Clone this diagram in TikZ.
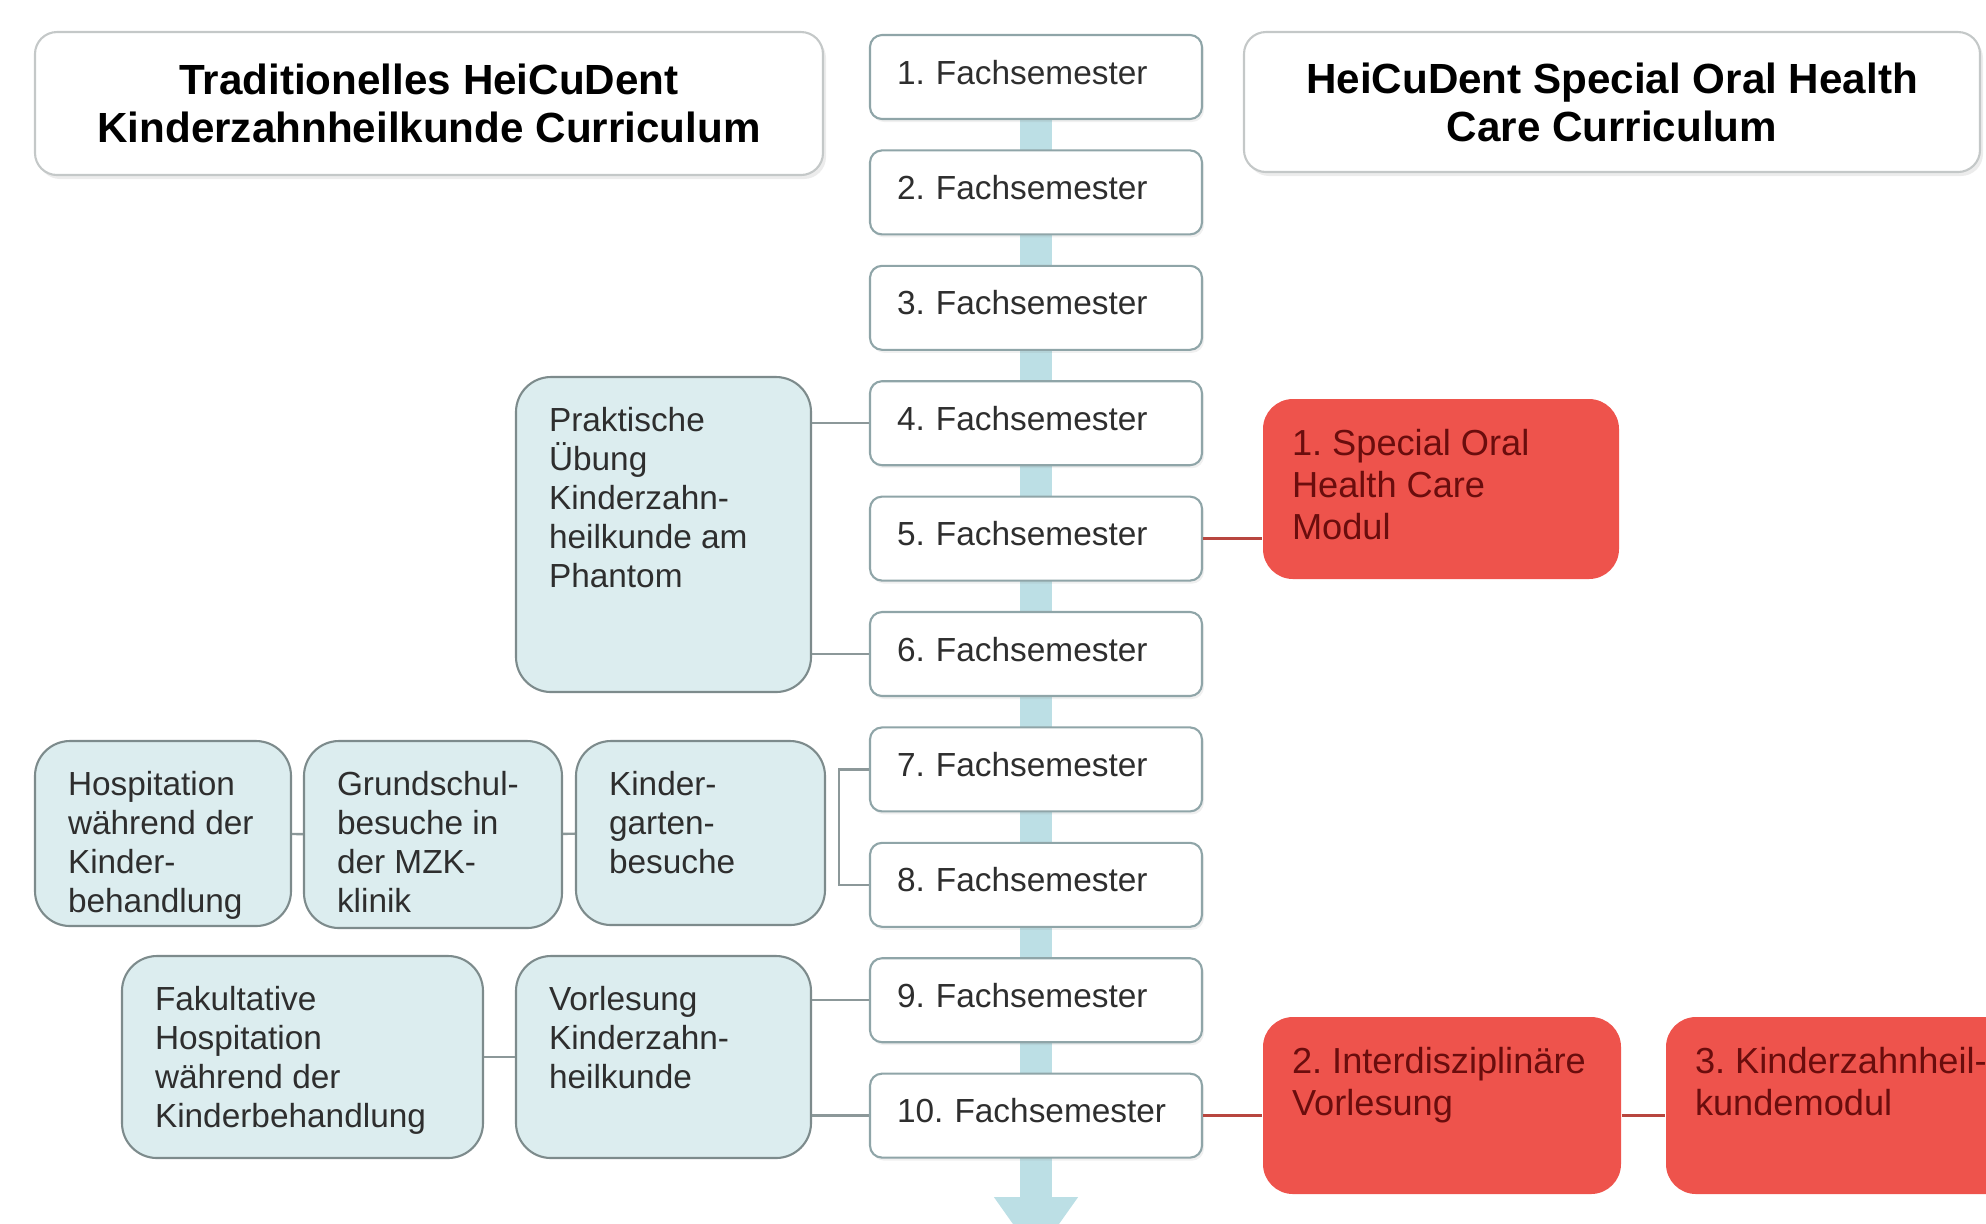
\documentclass[tikz,border=0pt]{standalone}
\usepackage{fontspec}
\setmainfont{Liberation Sans}
\usetikzlibrary{arrows.meta,shadows}
\frenchspacing

\definecolor{titleline}{HTML}{C4C8C8}
\definecolor{semline}{HTML}{8FA5A8}
\definecolor{stagefill}{HTML}{DCEDEF}
\definecolor{stageline}{HTML}{7D8B8C}
\definecolor{modfill}{HTML}{EE534C}
\definecolor{modtext}{HTML}{6A0D0D}
\definecolor{modline}{HTML}{B8463F}
\definecolor{linkgray}{HTML}{8C9899}
\definecolor{flowblue}{HTML}{BCDFE5}
\definecolor{semtext}{HTML}{2E2E2E}

\newcommand{\titlefont}{\fontsize{12}{13.7}\selectfont\bfseries}
\newcommand{\bodyfont}{\fontsize{9.5}{11.1}\selectfont}
\newcommand{\modfont}{\fontsize{10.3}{12}\selectfont}
\newcommand{\boxtext}[3]{\parbox[c][#2][t]{#1}{\raggedright #3}}

\tikzset{
	titlebox/.style={draw=titleline, fill=white, rounded corners=2.2mm, line width=0.6pt, align=center, font=\titlefont,
		drop shadow={opacity=0.15, shadow xshift=0.3mm, shadow yshift=-0.4mm}},
	sembox/.style={draw=semline, fill=white, rounded corners=1.2mm, line width=0.6pt, minimum width=33.2mm, minimum height=8.4mm,
		text width=27.8mm, text depth=1mm, align=left, inner xsep=2.7mm, font=\bodyfont, text=semtext,
		drop shadow={opacity=0.12, shadow xshift=0.2mm, shadow yshift=-0.3mm}},
	stagebox/.style={draw=stageline, fill=stagefill, rounded corners=3.5mm, line width=0.6pt, inner xsep=3.3mm, inner ysep=3mm,
		font=\bodyfont, text=semtext},
	modbox/.style={fill=modfill, text=modtext, rounded corners=3mm, inner xsep=2.9mm, inner ysep=3mm, font=\modfont},
	link/.style={draw=linkgray, line width=0.7pt},
	modlink/.style={draw=modline, line width=0.7pt},
	flow/.style={draw=flowblue, line width=3.2mm, -{Triangle[width=8mm,length=6mm]}}
}

\begin{document}
\begin{tikzpicture}[x=1mm, y=-1mm]
	\useasboundingbox (0,0) rectangle (198.6,122.3);
	
	% Zeitachse
	\coordinate (flowtop) at (103.6,4);
	\coordinate (flowend) at (103.6,125.7);
	\draw[flow] (flowtop) -- (flowend);
	
	% Ueberschriften
	\node[titlebox, minimum width=78.8mm, minimum height=14.3mm] (trad) at (42.9,10.35) {Traditionelles HeiCuDent\\Kinderzahnheilkunde Curriculum};
	\node[titlebox, minimum width=73.6mm, minimum height=14.0mm] (sohc) at (161.2,10.2) {HeiCuDent Special Oral Health\\Care Curriculum};
	
	% Fachsemester
	\foreach \i in {1,...,10}{
		\node[sembox] (sem\i) at (103.6,{7.7+(\i-1)*11.54}) {\i. Fachsemester};
	}
	
	% traditionelles Curriculum
	\node[stagebox] (prak) at (66.35,53.45) {\boxtext{22.9mm}{25.5mm}{Praktische\\Übung\\Kinderzahn-\\heilkunde am\\Phantom}};
	\node[stagebox] (hosp) at (16.3,83.35) {\boxtext{19.0mm}{12.5mm}{Hospitation\\während der\\Kinder-\\behandlung}};
	\node[stagebox] (grund) at (43.3,83.45) {\boxtext{19.2mm}{12.7mm}{Grundschul-\\besuche in\\der MZK-\\klinik}};
	\node[stagebox] (kiga) at (70.05,83.3) {\boxtext{18.3mm}{12.4mm}{Kinder-\\garten-\\besuche}};
	\node[stagebox] (fak) at (30.25,105.7) {\boxtext{29.5mm}{14.2mm}{Fakultative\\Hospitation\\während der\\Kinderbehandlung}};
	\node[stagebox] (vorl) at (66.35,105.7) {\boxtext{22.9mm}{14.2mm}{Vorlesung\\Kinderzahn-\\heilkunde}};
	
	% Module
	\node[modbox] (mod1) at (144.1,48.9) {\boxtext{29.8mm}{12.0mm}{1. Special Oral\\Health Care\\Modul}};
	\node[modbox] (mod2) at (144.2,110.55) {\boxtext{30.0mm}{11.7mm}{2. Interdisziplinäre\\Vorlesung}};
	\node[modbox] (mod3) at (184.5,110.55) {\boxtext{30.0mm}{11.7mm}{3. Kinderzahnheil-\\kundemodul}};
	
	% Verbindungen
	\draw[link] (prak.east |- sem4.west) -- (sem4.west);
	\draw[link] (prak.east |- sem6.west) -- (sem6.west);
	\draw[link] (hosp) -- (grund);
	\draw[link] (grund) -- (kiga);
	\draw[link] (sem7.west) -- ++(-3.0,0) |- (sem8.west);
	\draw[link] (fak) -- (vorl);
	\draw[link] (vorl.east |- sem9.west) -- (sem9.west);
	\draw[link] (vorl.east |- sem10.west) -- (sem10.west);
	
	\draw[modlink] (sem5.east) -- (mod1.west |- sem5.east);
	\draw[modlink] (sem10.east) -- (mod2.west |- sem10.east);
	\draw[modlink] (mod2.east |- sem10.east) -- (mod3.west |- sem10.east);
\end{tikzpicture}
\end{document}
